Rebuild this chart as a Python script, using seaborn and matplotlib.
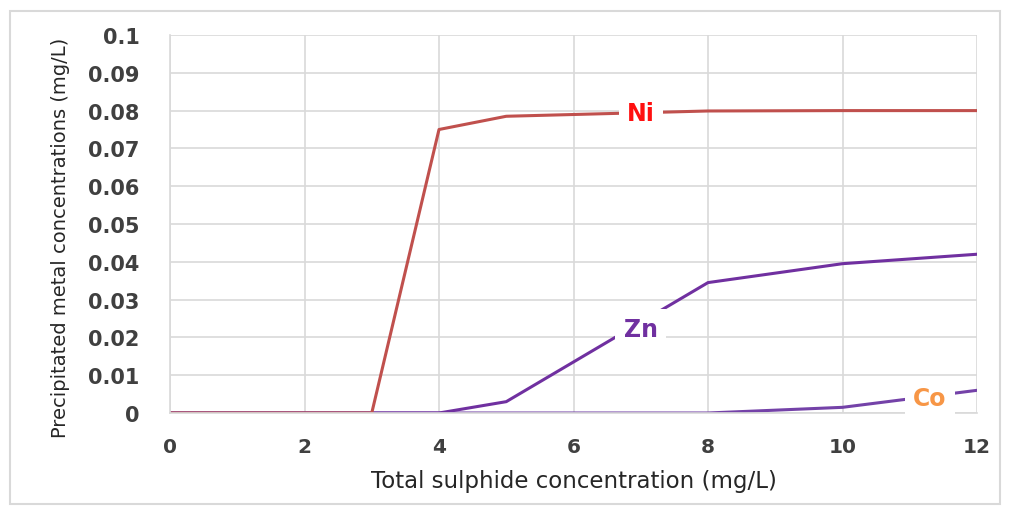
import numpy as np
import pandas as pd
import matplotlib
matplotlib.use("Agg")
import matplotlib.pyplot as plt
import seaborn as sns
from matplotlib.patches import Rectangle

sulphide = [0, 3, 4, 5, 8, 10, 12]
ni = [0.0, 0.0, 0.075, 0.0785, 0.0799, 0.08, 0.08]
zn = [0.0, 0.0, 0.0, 0.003, 0.0345, 0.0395, 0.042]
co = [0.0, 0.0, 0.0, 0.0, 0.0, 0.0015, 0.006]
metals = ["Ni", "Zn", "Co"]
line_colors = {"Ni": "#C0504D", "Zn": "#7030A0", "Co": "#7442A8"}
label_colors = {"Ni": "#FF1010", "Zn": "#7030A0", "Co": "#F79646"}
x_ticks = [0, 2, 4, 6, 8, 10, 12]
y_ticks = [0, 0.01, 0.02, 0.03, 0.04, 0.05, 0.06, 0.07, 0.08, 0.09, 0.1]
y_tick_labels = ["0", "0.01", "0.02", "0.03", "0.04", "0.05", "0.06", "0.07", "0.08", "0.09", "0.1"]

df = pd.DataFrame({
    "x": sulphide * 3,
    "y": ni + zn + co,
    "metal": ["Ni"] * len(sulphide) + ["Zn"] * len(sulphide) + ["Co"] * len(sulphide),
})

sns.set_style("whitegrid")
plt.rcParams["font.family"] = ["DejaVu Sans"]

fig = plt.figure(figsize=(10.09, 5.10), dpi=100)
ax = fig.add_axes([170/1009, 1 - 414/510, (977-170)/1009, (414-36)/510])

sns.lineplot(data=df, x="x", y="y", hue="metal", palette=line_colors,
             hue_order=["Co", "Zn", "Ni"], linewidth=2.2, legend=False, ax=ax)

ax.set_xlim(0, 12)
ax.set_ylim(0, 0.1)
ax.set_xticks(x_ticks)
ax.set_xticklabels([str(t) for t in x_ticks], fontsize=14.5, fontweight="bold", color="#404040")
ax.set_yticks(y_ticks)
ax.set_yticklabels(y_tick_labels, fontsize=15, fontweight="bold", color="#404040")
ax.tick_params(axis="x", length=0, pad=17)
ax.tick_params(axis="y", length=0, pad=22)
ax.grid(True, color="#D9D9D9", linewidth=1.2)
for s in ["top", "right"]:
    ax.spines[s].set_visible(False)
for s in ["left", "bottom"]:
    ax.spines[s].set_color("#D9D9D9")
    ax.spines[s].set_linewidth(1.2)

ax.set_xlabel("Total sulphide concentration (mg/L)", fontsize=16.5, color="#262626")
ax.xaxis.set_label_coords(0.5, -(470 - 414) / 378)
ax.set_ylabel("Precipitated metal concentrations (mg/L)", fontsize=14, color="#262626")
ax.yaxis.set_label_coords(-(170 - 70) / 807, (414 - 238) / 378)

label_pos = {"Ni": (7.0, 0.0793), "Zn": (7.0, 0.0222), "Co": (11.3, 0.0040)}
for m in metals:
    lx, ly = label_pos[m]
    ax.text(lx, ly, m, color=label_colors[m], fontsize=17, fontweight="bold",
            ha="center", va="center",
            bbox=dict(facecolor="white", edgecolor="none", pad=6), zorder=5)

fig.patches.append(Rectangle((10/1009, 5/510), 990/1009, 493/510, transform=fig.transFigure,
                             fill=False, edgecolor="#D9D9D9", linewidth=1.5))

fig.savefig("out.png", dpi=100)
